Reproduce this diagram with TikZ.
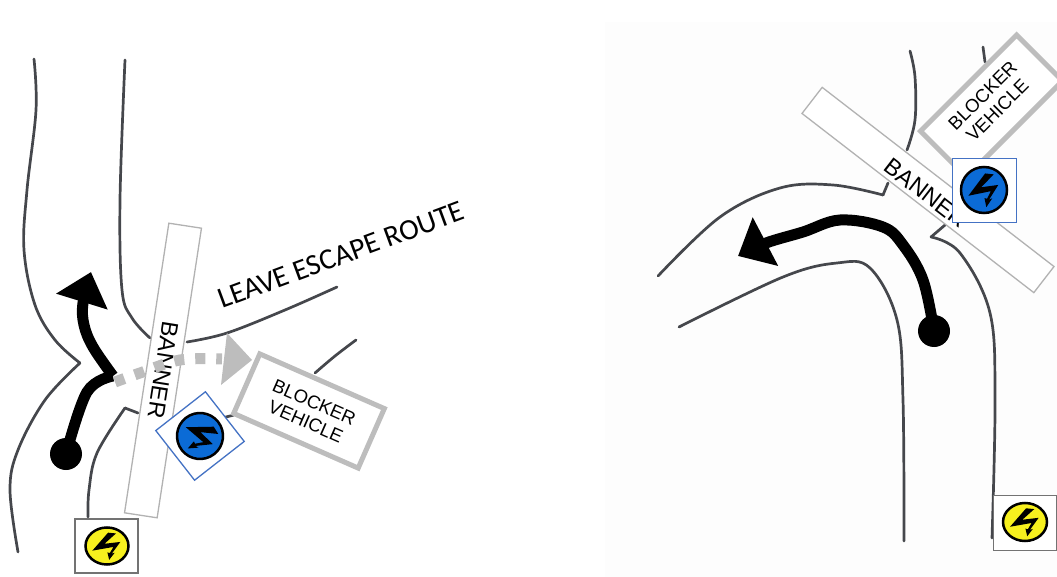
\documentclass[tikz,border=0pt]{standalone}
\usepackage{fontspec}
\setmainfont{Liberation Sans}
\newfontfamily\escapefont{Carlito}
\usetikzlibrary{arrows.meta}
\definecolor{roadgrey}{HTML}{45474C}
\definecolor{blockergrey}{HTML}{BDBDBD}
\definecolor{signblue}{HTML}{0B6BD6}
\definecolor{boxblue}{HTML}{4472C4}
\definecolor{signyellow}{HTML}{F7F01E}
\tikzset{
  road/.style={draw=roadgrey, line width=2.7pt, line cap=round, line join=round},
  banner/.style={draw=black!30, fill=white, line width=1.3pt, minimum width=293pt, minimum height=33pt, inner sep=0pt},
  bannertext/.style={font=\fontsize{23.5}{23.5}\selectfont, inner sep=0pt},
  blocker/.style={draw=blockergrey, fill=white, line width=5pt, minimum width=136pt, minimum height=65pt, inner sep=0pt},
  blockertext/.style={font=\fontsize{18.5}{21}\selectfont, align=center, inner sep=0pt},
  signbox/.style={draw=#1, fill=white, line width=1.3pt, inner sep=0pt},
  route/.style={line width=11pt, black},
  startdot/.style={circle, fill=black, minimum size=32pt, inner sep=0pt},
  leave/.style={draw=blockergrey, line width=11pt, dash pattern=on 10pt off 11pt},
  pics/zap/.style={code={
    \filldraw[fill=#1, draw=black, line width=2.5pt] (0,0) circle (1);
    \fill[black] (.05,-.72) -- (.42,-.68) -- (-.12,-.12) -- (.62,-.22) -- (.22,.42) -- (.36,.36)
      -- (.1,.75) -- (.02,.35) -- (.13,.38) -- (.3,.05) -- (-.68,.25) -- cycle;
  }}
}

\begin{document}
\begin{tikzpicture}[x=1pt, y=-1pt, >=Stealth]
  \clip (0,0) rectangle (1057,577);
  \fill[black!.7] (605,22) rectangle (1057,577);

  % left side
  \draw[road] plot[smooth, tension=.6] coordinates {(34,59) (36,110) (27,190) (24,250) (35,305) (55,340) (80,363)};
  \draw[road] plot[smooth, tension=.6] coordinates {(80,363) (45,400) (18,450) (10,490) (18,552)};
  \draw[road] plot[smooth, tension=.6] coordinates {(125,60) (120,200) (122,290) (132,318) (150,338)};
  \draw[road] plot[smooth, tension=.6] coordinates {(187,342) (227,333) (285,310) (337,287)};
  \draw[road] plot[smooth, tension=.6] coordinates {(356,340) (335,356) (315,373)};
  \draw[road] plot[smooth, tension=.6] coordinates {(125,408) (97,453) (89,490) (88,517)};
  \draw[road] (125,408) -- (138,413);
  \draw[road] (222,418) -- (234,415);

  \node[banner, rotate=81.3] (bannerl) at (163,370.5) {};
  \node[bannertext, rotate=-99] (bannerltext) at (163,370) {BANNER};
  \node[blocker, rotate=-23.7] (blockerl) at (309,411) {};
  \node[blockertext, rotate=-23.7] (blockerltext) at (310,412) {BLOCKER\\VEHICLE};
  \node[signbox=boxblue, rotate=-52, minimum size=63pt] (signl) at (200,436) {};
  \pic[scale=23, rotate=-52] at (signl) {zap=signblue};
  \node[signbox=black!55, minimum width=63pt, minimum height=54pt] (yellowl) at (106.5,546) {};
  \pic[xscale=21.5, yscale=18.5] at (107,546) {zap=signyellow};

  \node[startdot] (startl) at (66,454) {};
  \coordinate (cornerl) at (113,376);
  \draw[route] plot[smooth, tension=.6] coordinates {(startl) (87,392) (cornerl)};
  \draw[route, -{Triangle[length=31pt, width=52pt]}] plot[smooth, tension=.6] coordinates {(cornerl) (93,347) (84,325) (83,303) (91,272)};

  \coordinate (leavel) at (115,382);
  \coordinate (leavetip) at (252,360);
  \draw[leave] plot[smooth, tension=.6] coordinates {(leavel) (140,373) (180,360) (222,359)};
  \fill[blockergrey] (227,333) -- (leavetip) -- (221,385) -- cycle;

  \node[font=\escapefont\fontsize{29.5}{29.5}\selectfont, rotate=20.3, inner sep=0pt] (escape) at (341,255) {LEAVE ESCAPE ROUTE};

  % right side
  \draw[road] plot[smooth, tension=.6] coordinates {(910,51) (915,77) (915,120) (907,150)};
  \draw[road] (983,47) -- (985,62);
  \draw[road] (888,183) -- (883,195);
  \draw[road] plot[smooth, tension=.6] coordinates {(883,195) (833,185) (780,188) (720,217) (658,276)};
  \draw[road] plot[smooth, tension=.6] coordinates {(679,327) (783,277) (837,263) (870,268) (897,320) (903,400) (904,541)};
  \draw[road] (945,225) -- (931,237);
  \draw[road] plot[smooth, tension=.6] coordinates {(931,237) (960,253) (990,313) (995,400) (992,538)};

  \node[banner, rotate=-37.7] (bannerr) at (928,190) {};
  \node[bannertext, rotate=-37.7] (bannerrtext) at (926,193) {BANNER};
  \node[blocker, rotate=45] (blockerr) at (991.5,106) {};
  \node[blockertext, rotate=45] (blockerrtext) at (990,103) {BLOCKER\\VEHICLE};
  \node[signbox=boxblue, minimum size=64pt] (signr) at (984.5,190.5) {};
  \pic[scale=23] at (984,190) {zap=signblue};
  \node[signbox=black!55, minimum width=63pt, minimum height=55pt] (yellowr) at (1025,523) {};
  \pic[xscale=22, yscale=19] at (1025,522) {zap=signyellow};

  \node[startdot] (startr) at (934,331) {};
  \draw[route, -{Triangle[length=31pt, width=53pt]}] plot[smooth, tension=.6] coordinates {(startr) (923,280) (903,245) (883,227) (840,220) (803,232) (766,243) (738,256)};
\end{tikzpicture}
\end{document}
